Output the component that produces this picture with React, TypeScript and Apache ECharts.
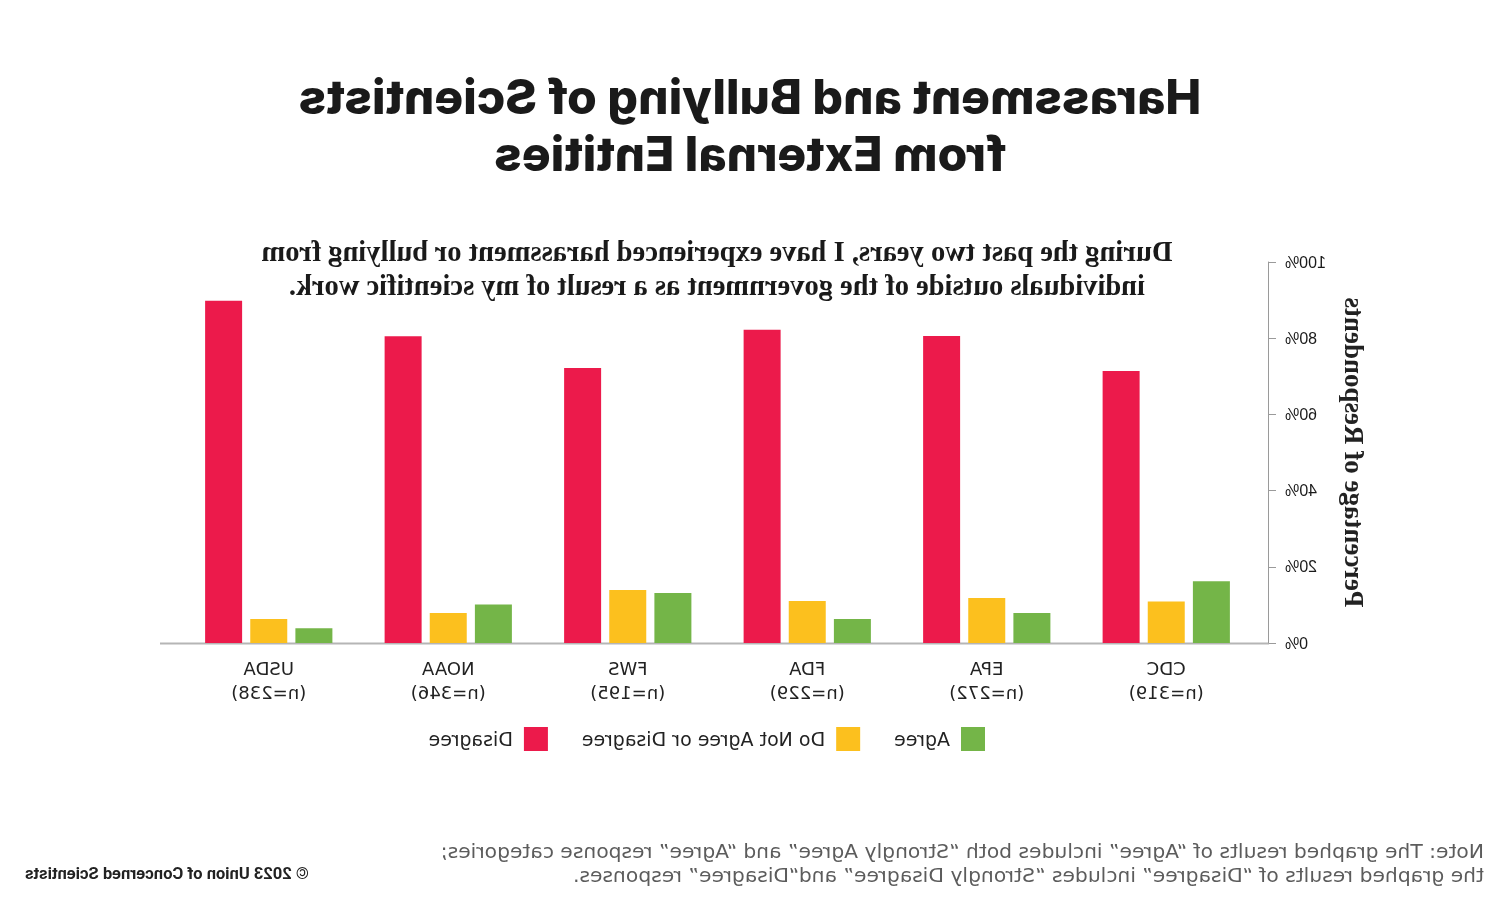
import React, { useEffect, useRef } from "react";
import * as echarts from "echarts";

const categories = ["CDC\n(n=319)", "EPA\n(n=272)", "FDA\n(n=229)", "FWS\n(n=195)", "NOAA\n(n=346)", "USDA\n(n=238)"];
const seriesNames = ["Agree", "Do Not Agree or Disagree", "Disagree"];
const agree = [16.2, 7.9, 6.3, 13.1, 10.1, 3.9];
const neither = [10.9, 11.8, 11.0, 13.9, 7.9, 6.3];
const disagree = [71.4, 80.6, 82.2, 72.2, 80.5, 89.8];
const yTicks = [0, 20, 40, 60, 80, 100];
const colors = ["#74B548", "#FCC01E", "#EC1A4B"];

const titleLines = "Harassment and Bullying of Scientists\nfrom External Entities";
const subtitle = "During the past two years, I have experienced harassment or bullying from\nindividuals outside of the government as a result of my scientific work.";
const yName = "Percentage of Respondents";
const note = "Note: The graphed results of “Agree” includes both “Strongly Agree” and “Agree” response categories;\nthe graphed results of “Disagree” includes “Strongly Disagree” and“Disagree” responses.";
const copyright = "© 2023 Union of Concerned Scientists";

export default function App() {
  const ref = useRef<HTMLDivElement>(null);
  useEffect(() => {
    if (!ref.current) return;
    const chart = echarts.init(ref.current, null, { renderer: "svg" });
    const sans = "DejaVu Sans";
    chart.setOption({
      animation: false,
      backgroundColor: "#ffffff",
      grid: { left: 245, right: 179, top: 262, bottom: 258, containLabel: false },
      legend: {
        data: seriesNames,
        left: 511,
        top: 722,
        itemWidth: 24,
        itemHeight: 24,
        itemGap: 34,
        icon: "rect",
        textStyle: { fontFamily: sans, fontSize: 19, color: "#222", padding: [0, 0, 0, 6] },
      },
      xAxis: {
        type: "category",
        data: categories,
        axisLine: { show: false },
        axisTick: { show: false },
        axisLabel: { fontFamily: sans, fontSize: 18, color: "#222", lineHeight: 24, margin: 13 },
      },
      yAxis: {
        type: "value",
        min: yTicks[0],
        max: yTicks[yTicks.length - 1],
        interval: 20,
        offset: 13,
        name: yName,
        nameLocation: "middle",
        nameGap: 72,
        nameTextStyle: { fontFamily: "Liberation Serif", fontWeight: "bold", fontSize: 27, color: "#222" },
        axisLine: { show: true, lineStyle: { color: "#9a9a9a", width: 1 } },
        axisTick: { show: true, length: 7, lineStyle: { color: "#9a9a9a" } },
        axisLabel: { formatter: "{value}%", fontFamily: "Liberation Sans", fontSize: 16, color: "#1a1a1a", margin: 16 },
        splitLine: { show: false },
      },
      series: [agree, neither, disagree].map((d, i) => ({
        name: seriesNames[i],
        type: "bar",
        data: d,
        barWidth: 37,
        barGap: "22%",
        itemStyle: { color: colors[i] },
      })),
      graphic: [
        {
          type: "line",
          shape: { x1: 232, y1: 643.5, x2: 1341, y2: 643.5 },
          style: { stroke: "#b5b5b5", lineWidth: 2 },
          silent: true,
        },
        {
          type: "text",
          x: 751,
          y: 68,
          style: {
            text: titleLines,
            font: "800 48px Inter",
            fill: "#1a1a1a",
            textAlign: "center",
            lineHeight: 57,
          },
        },
        {
          type: "text",
          x: 784,
          y: 234,
          style: {
            text: subtitle,
            font: "bold 28.5px 'Liberation Serif'",
            fill: "#1a1a1a",
            textAlign: "center",
            lineHeight: 34,
          },
        },
        {
          type: "text",
          x: 17,
          y: 839,
          style: {
            text: note,
            font: "20.3px 'DejaVu Sans'",
            fill: "#5c5c5c",
            textAlign: "left",
            lineHeight: 24,
          },
        },
        {
          type: "text",
          x: 1476,
          y: 865,
          style: {
            text: copyright,
            font: "bold 16.5px Roboto",
            fill: "#222",
            textAlign: "right",
          },
        },
      ],
    });
    return () => chart.dispose();
  }, []);
  return (
    <div style={{ position: "fixed", left: 0, top: 0, width: 1501, height: 901, transform: "scaleX(-1)", background: "#fff" }}>
      <div ref={ref} style={{ width: 1501, height: 901 }} />
    </div>
  );
}
